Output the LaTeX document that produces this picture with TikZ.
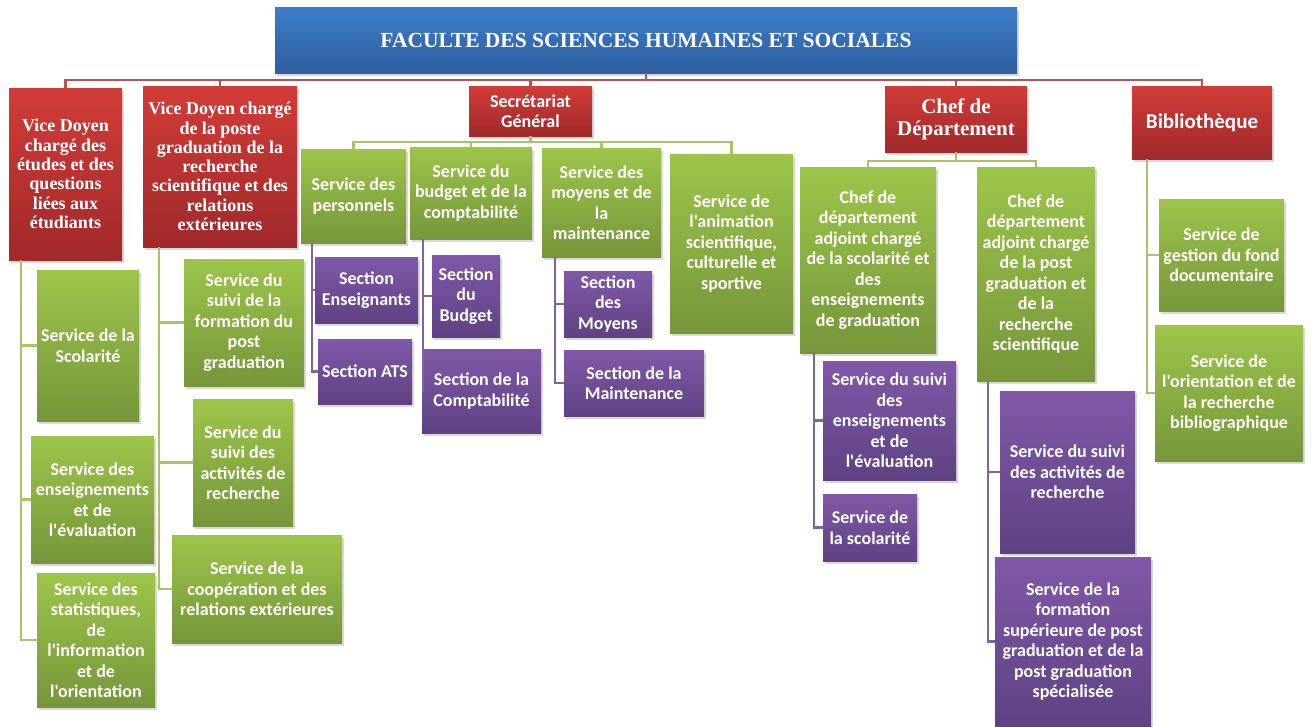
\documentclass[tikz,border=0pt]{standalone}
\usepackage{fontspec}
\setmainfont{Carlito}[Ligatures=TeXOff]
\newfontfamily\serifbold{Liberation Serif}
\usetikzlibrary{shadows}
\definecolor{bluetop}{HTML}{3C7DCB}
\definecolor{bluebot}{HTML}{2E5E9E}
\definecolor{redtop}{HTML}{D23C38}
\definecolor{redbot}{HTML}{A0292A}
\definecolor{greentop}{HTML}{9EC54A}
\definecolor{greenbot}{HTML}{76963A}
\definecolor{purpletop}{HTML}{8058A8}
\definecolor{purplebot}{HTML}{5F4283}
\definecolor{redline}{HTML}{C0504D}
\definecolor{greenline}{HTML}{A5C566}
\definecolor{purpleline}{HTML}{8064A2}
\tikzset{
  box/.style={inner sep=0pt, align=center, text=white,
    font=\bfseries\fontsize{18}{20.5}\selectfont,
    drop shadow={shadow xshift=2pt, shadow yshift=-3pt, opacity=0.3}},
  titlebox/.style={box, top color=bluetop, bottom color=bluebot,
    font=\serifbold\bfseries\fontsize{21.5}{24}\selectfont},
  redbox/.style={box, top color=redtop, bottom color=redbot,
    font=\serifbold\bfseries\fontsize{18}{19.3}\selectfont},
  redsans/.style={box, top color=redtop, bottom color=redbot},
  greenbox/.style={box, top color=greentop, bottom color=greenbot},
  purplebox/.style={box, top color=purpletop, bottom color=purplebot},
  redlink/.style={draw=redline, line width=2.5pt},
  greenlink/.style={draw=greenline, line width=2.5pt},
  purplelink/.style={draw=purpleline, line width=2.2pt}
}
\begin{document}
\begin{tikzpicture}[x=1pt, y=-1pt]
\useasboundingbox (0,0) rectangle (1312,726);
% title
\node[titlebox, minimum width=742pt, minimum height=66pt] (F_0_0) at (646,40) {FACULTE DES SCIENCES HUMAINES ET SOCIALES};
% first level
\node[redbox, minimum width=113pt, minimum height=172pt] (F_1_0) at (65.5,174) {Vice Doyen\\chargé des\\études et des\\questions\\liées aux\\étudiants};
\node[redbox, minimum width=154pt, minimum height=161pt] (F_1_1) at (220,166.5) {Vice Doyen chargé\\de la poste\\graduation de la\\recherche\\scientifique et des\\relations\\extérieures};
\node[redsans, minimum width=123pt, minimum height=50pt] (F_1_2) at (530.5,111) {Secrétariat\\Général};
\node[redbox, minimum width=142pt, minimum height=66pt, font=\serifbold\bfseries\fontsize{21}{22}\selectfont] (F_1_3) at (956,119) {Chef de\\Département};
\node[redsans, minimum width=140pt, minimum height=73pt, font=\bfseries\fontsize{21}{24}\selectfont] (F_1_4) at (1202,122.5) {Bibliothèque};
\draw[redlink] (F_0_0.south) -- ++(0,7) -| (F_1_0.north);
\draw[redlink] (F_0_0.south) -- ++(0,7) -| (F_1_1.north);
\draw[redlink] (F_0_0.south) -- ++(0,7) -| (F_1_2.north);
\draw[redlink] (F_0_0.south) -- ++(0,7) -| (F_1_3.north);
\draw[redlink] (F_0_0.south) -- ++(0,7) -| (F_1_4.north);
% Vice Doyen 1
\node[greenbox, minimum width=102pt, minimum height=151pt] (F_2_0) at (88,345.5) {Service de la\\Scolarité};
\node[greenbox, minimum width=123pt, minimum height=127pt] (F_2_1) at (92.5,499.5) {Service des\\enseignements\\et de\\l'évaluation};
\node[greenbox, minimum width=118pt, minimum height=134pt] (F_2_2) at (96,640) {Service des\\statistiques,\\de\\l'information\\et de\\l'orientation};
\draw[greenlink] ([xshift=12]F_1_0.south west) |- (F_2_0.west);
\draw[greenlink] ([xshift=12]F_1_0.south west) |- (F_2_1.west);
\draw[greenlink] ([xshift=12]F_1_0.south west) |- (F_2_2.west);
% Vice Doyen 2
\node[greenbox, minimum width=120pt, minimum height=127pt] (F_2_3) at (244,322.5) {Service du\\suivi de la\\formation du\\post\\graduation};
\node[greenbox, minimum width=100pt, minimum height=127pt] (F_2_4) at (243,462.5) {Service du\\suivi des\\activités de\\recherche};
\node[greenbox, minimum width=170pt, minimum height=108pt] (F_2_5) at (257,589) {Service de la\\coopération et des\\relations extérieures};
\draw[greenlink] ([xshift=16]F_1_1.south west) |- (F_2_3.west);
\draw[greenlink] ([xshift=16]F_1_1.south west) |- (F_2_4.west);
\draw[greenlink] ([xshift=16]F_1_1.south west) |- (F_2_5.west);
% Secretariat
\node[greenbox, minimum width=105pt, minimum height=94pt] (F_2_6) at (353.5,196) {Service des\\personnels};
\node[greenbox, minimum width=122pt, minimum height=92pt] (F_2_7) at (471,193) {Service du\\budget et de la\\comptabilité};
\node[greenbox, minimum width=119pt, minimum height=109pt] (F_2_8) at (601.5,202.5) {Service des\\moyens et de\\la\\maintenance};
\node[greenbox, minimum width=123pt, minimum height=179pt] (F_2_9) at (731.5,243.5) {Service de\\l'animation\\scientifique,\\culturelle et\\sportive};
\draw[greenlink] (F_1_2.south) -- ++(0,6) -| (F_2_6.north);
\draw[greenlink] (F_1_2.south) -- ++(0,6) -| (F_2_7.north);
\draw[greenlink] (F_1_2.south) -- ++(0,6) -| (F_2_8.north);
\draw[greenlink] (F_1_2.south) -- ++(0,6) -| (F_2_9.north);
\node[purplebox, minimum width=103pt, minimum height=66pt] (F_3_4) at (366.5,290) {Section\\Enseignants};
\node[purplebox, minimum width=94pt, minimum height=65pt] (F_3_5) at (365,371.5) {Section ATS};
\node[purplebox, minimum width=68pt, minimum height=82pt] (F_3_6) at (466,296) {Section\\du\\Budget};
\node[purplebox, minimum width=119pt, minimum height=84pt] (F_3_7) at (481.5,391) {Section de la\\Comptabilité};
\node[purplebox, minimum width=88pt, minimum height=66pt] (F_3_8) at (608,304) {Section\\des\\Moyens};
\node[purplebox, minimum width=140pt, minimum height=66pt] (F_3_9) at (634,383) {Section de la\\Maintenance};
\draw[purplelink] ([xshift=11]F_2_6.south west) |- (F_3_4.west);
\draw[purplelink] ([xshift=11]F_2_6.south west) |- (F_3_5.west);
\draw[purplelink] ([xshift=13]F_2_7.south west) |- (F_3_6.west);
\draw[purplelink] ([xshift=13]F_2_7.south west) |- (F_3_7.west);
\draw[purplelink] ([xshift=13]F_2_8.south west) |- (F_3_8.west);
\draw[purplelink] ([xshift=13]F_2_8.south west) |- (F_3_9.west);
% Chef de departement
\node[greenbox, minimum width=136pt, minimum height=186pt] (F_2_10) at (868,260) {Chef de\\département\\adjoint chargé\\de la scolarité et\\des\\enseignements\\de graduation};
\node[greenbox, minimum width=118pt, minimum height=214pt] (F_2_11) at (1036,274) {Chef de\\département\\adjoint chargé\\de la post\\graduation et\\de la\\recherche\\scientifique};
\draw[greenlink] (F_1_3.south) -- ++(0,9) -| (F_2_10.north);
\draw[greenlink] (F_1_3.south) -- ++(0,9) -| (F_2_11.north);
\node[purplebox, minimum width=133pt, minimum height=119pt] (F_3_0) at (889.5,420.5) {Service du suivi\\des\\enseignements\\et de\\l'évaluation};
\node[purplebox, minimum width=94pt, minimum height=67pt] (F_3_1) at (870,527.5) {Service de\\la scolarité};
\node[purplebox, minimum width=135pt, minimum height=162pt] (F_3_2) at (1067.5,472) {Service du suivi\\des activités de\\recherche};
\node[purplebox, minimum width=156pt, minimum height=169pt] (F_3_3) at (1073,641.5) {Service de la\\formation\\supérieure de post\\graduation et de la\\post graduation\\spécialisée};
\draw[purplelink] ([xshift=14]F_2_10.south west) |- (F_3_0.west);
\draw[purplelink] ([xshift=14]F_2_10.south west) |- (F_3_1.west);
\draw[purplelink] ([xshift=11]F_2_11.south west) |- (F_3_2.west);
\draw[purplelink] ([xshift=11]F_2_11.south west) |- (F_3_3.west);
% Bibliotheque
\node[greenbox, minimum width=125pt, minimum height=112pt] (F_2_12) at (1221.5,255) {Service de\\gestion du fond\\documentaire};
\node[greenbox, minimum width=148pt, minimum height=136pt] (F_2_13) at (1229,393) {Service de\\l'orientation et de\\la recherche\\bibliographique};
\draw[greenlink] ([xshift=15]F_1_4.south west) |- (F_2_12.west);
\draw[greenlink] ([xshift=15]F_1_4.south west) |- (F_2_13.west);
\end{tikzpicture}
\end{document}
